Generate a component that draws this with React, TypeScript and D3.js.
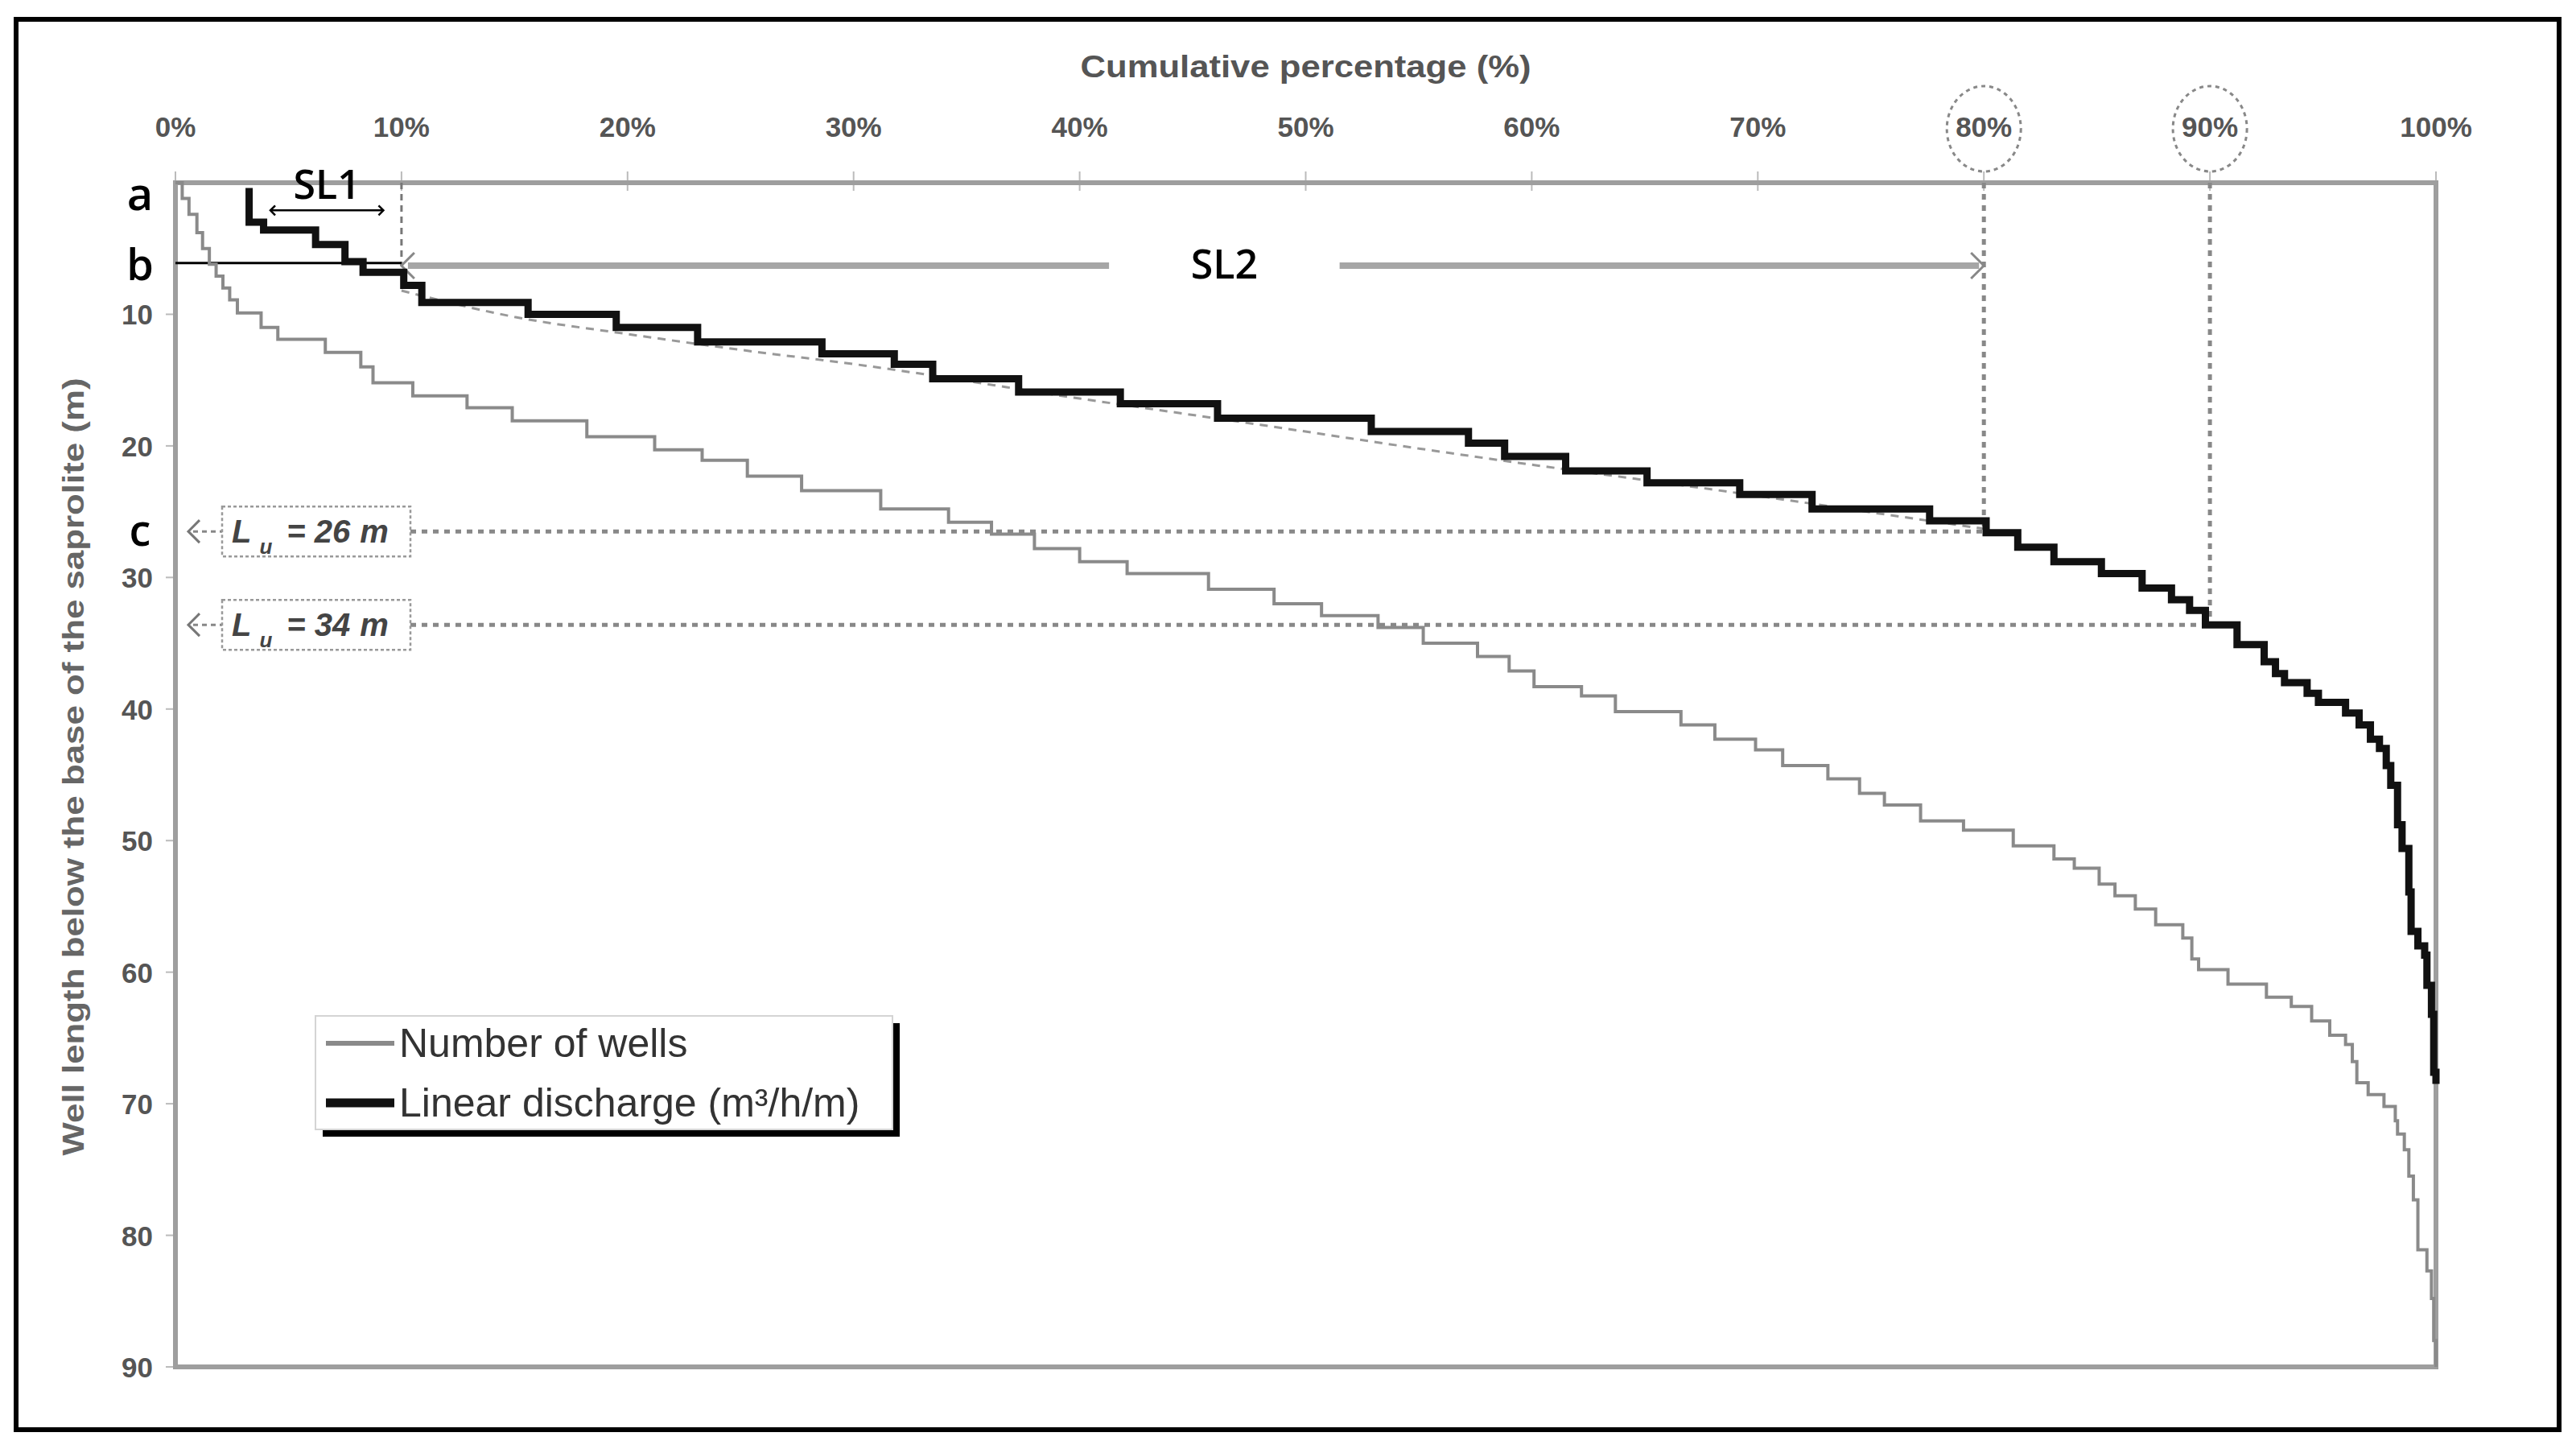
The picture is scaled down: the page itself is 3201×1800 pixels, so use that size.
import { useEffect, useRef } from "react"
import * as d3 from "d3"

const W = 3201
const H = 1800

const xTicks = [0, 10, 20, 30, 40, 50, 60, 70, 80, 90, 100]
const yTicks = [10, 20, 30, 40, 50, 60, 70, 80, 90]

// [cumulative %, well length below saprolite base (m)] - step points
const wellsCurve: [number, number][] = [
  [0, 0], [0.3, 1.2], [0.6, 2.4], [0.95, 3.8], [1.2, 5.0], [1.5, 6.2], [1.8, 7.1], [2.1, 8.0],
  [2.4, 8.9], [2.74, 9.9], [3.79, 11.0], [4.53, 11.9], [6.63, 12.9], [8.2, 14.0], [8.74, 15.2],
  [10.5, 16.2], [12.9, 17.1], [14.9, 18.1], [18.2, 19.3], [21.2, 20.3], [23.3, 21.1], [25.3, 22.3],
  [27.7, 23.4], [31.2, 24.8], [34.2, 25.8], [36.1, 26.7], [38.0, 27.8], [40.0, 28.8], [42.1, 29.7],
  [45.7, 30.9], [48.6, 32.0], [50.7, 32.9], [53.2, 33.8], [55.2, 35.0], [57.6, 36.0], [59.0, 37.1],
  [60.1, 38.3], [62.2, 39.0], [63.7, 40.2], [66.6, 41.2], [68.1, 42.3], [69.9, 43.1], [71.1, 44.3],
  [73.1, 45.3], [74.5, 46.4], [75.6, 47.3], [77.2, 48.5], [79.1, 49.2], [81.3, 50.4], [83.1, 51.4],
  [84.0, 52.1], [85.1, 53.3], [85.8, 54.2], [86.7, 55.2], [87.6, 56.4], [88.8, 57.4], [89.2, 59.0],
  [89.5, 59.8], [90.8, 60.9], [92.5, 61.9], [93.6, 62.6], [94.5, 63.7], [95.3, 64.8], [96.0, 65.5],
  [96.3, 66.8], [96.5, 68.4], [97.0, 69.3], [97.7, 70.2], [98.2, 71.3], [98.3, 72.3], [98.6, 73.5],
  [98.8, 75.5], [99.0, 77.3], [99.2, 81.1], [99.6, 82.7], [99.8, 84.8], [99.9, 88.0], [100, 90],
]

const dischargeCurve: [number, number][] = [
  [3.26, 0.4], [3.26, 3.0], [3.9, 3.6], [6.2, 4.7], [7.5, 6.0], [8.3, 6.8], [10.1, 7.8], [10.9, 9.1],
  [15.6, 10.0], [19.5, 11.0], [23.1, 12.1], [28.6, 13.0], [31.8, 13.8], [33.5, 14.9], [37.3, 15.9],
  [41.8, 16.8], [46.1, 17.9], [52.9, 18.9], [57.2, 19.8], [58.8, 20.8], [61.5, 21.9], [65.1, 22.8],
  [69.2, 23.7], [72.4, 24.8], [77.6, 25.7], [80.1, 26.6], [81.5, 27.7], [83.1, 28.8], [85.2, 29.7],
  [87.0, 30.8], [88.3, 31.7], [89.1, 32.5], [89.8, 33.6], [91.2, 35.1], [92.4, 36.4], [92.9, 37.3],
  [93.3, 38.0], [94.3, 38.8], [94.8, 39.5], [96.0, 40.3], [96.6, 41.2], [97.1, 42.3], [97.5, 43.0],
  [97.8, 44.3], [98.0, 45.8], [98.3, 48.8], [98.5, 50.6], [98.8, 53.9], [98.9, 56.9], [99.2, 58.0],
  [99.5, 58.7], [99.6, 61.0], [99.8, 63.2], [99.9, 67.6], [100, 68.5],
]

// dashed trend drawn under the discharge curve (SL2 section)
const dischargeTrend: [number, number][] = [
  [10.0, 8.2], [15, 10.2], [20, 11.5], [25, 12.7], [30.5, 13.9], [40, 16.4], [48, 18.4],
  [55, 20.2], [60.3, 21.5], [65, 22.6], [70, 23.8], [76.8, 25.5], [80, 26.3],
]

const thresholds = [
  { pct: 80, depth: 26.5, value: "26" },
  { pct: 90, depth: 33.6, value: "34" },
]
const sl1 = { from: 4.2, to: 9.2, depth: 2.1 }
const sl2 = { from: 10, to: 80, depth: 6.3, gapFrom: 41.3, gapTo: 51.5 }
const bDepth = 6.1

const legendItems = [
  { label: "Number of wells", color: "#8a8a8a", width: 4 },
  { label: "Linear discharge (m³/h/m)", color: "#111", width: 9 },
]

const AXIS_FONT = "'Liberation Sans', Arial, sans-serif"
const NOTE_FONT = "'Open Sans', 'Noto Sans', sans-serif"

export default function App() {
  const svgRef = useRef<SVGSVGElement>(null)

  useEffect(() => {
    if (!svgRef.current) return
    const svg = d3.select(svgRef.current)
    svg.selectAll("*").remove()

    const x = d3.scaleLinear().domain([0, 100]).range([218, 3027])
    const y = d3.scaleLinear().domain([0, 90]).range([227, 1698])

    svg.append("rect").attr("width", W).attr("height", H).attr("fill", "#fff")

    // outer border
    svg
      .append("rect")
      .attr("x", 20)
      .attr("y", 24)
      .attr("width", 3160)
      .attr("height", 1752)
      .attr("fill", "none")
      .attr("stroke", "#000")
      .attr("stroke-width", 6)

    // chart title
    svg
      .append("text")
      .attr("x", x(50))
      .attr("y", 96)
      .attr("text-anchor", "middle")
      .attr("font-family", AXIS_FONT)
      .attr("font-weight", "bold")
      .attr("font-size", 38)
      .attr("fill", "#555")
      .attr("textLength", 560)
      .attr("lengthAdjust", "spacingAndGlyphs")
      .text("Cumulative percentage (%)")

    // y title
    svg
      .append("text")
      .attr("transform", `translate(104, ${(y(0) + y(90)) / 2 - 10}) rotate(-90)`)
      .attr("text-anchor", "middle")
      .attr("font-family", AXIS_FONT)
      .attr("font-weight", "bold")
      .attr("font-size", 36)
      .attr("fill", "#666")
      .attr("textLength", 966)
      .attr("lengthAdjust", "spacingAndGlyphs")
      .text("Well length below the base of the saprolite (m)")

    // x ticks and labels
    const xAxis = svg.append("g")
    xTicks.forEach((t) => {
      xAxis
        .append("line")
        .attr("x1", x(t))
        .attr("x2", x(t))
        .attr("y1", y(0) - 14)
        .attr("y2", y(0) + 10)
        .attr("stroke", "#bbb")
        .attr("stroke-width", 2)
      xAxis
        .append("text")
        .attr("x", x(t))
        .attr("y", 170)
        .attr("text-anchor", "middle")
        .attr("font-family", AXIS_FONT)
        .attr("font-weight", "bold")
        .attr("font-size", 35)
        .attr("fill", "#555")
        .text(`${t}%`)
    })

    // y ticks and labels
    const yAxis = svg.append("g")
    yTicks.forEach((t) => {
      yAxis
        .append("line")
        .attr("x1", x(0) - 12)
        .attr("x2", x(0))
        .attr("y1", y(t))
        .attr("y2", y(t))
        .attr("stroke", "#bbb")
        .attr("stroke-width", 2)
      yAxis
        .append("text")
        .attr("x", x(0) - 28)
        .attr("y", y(t) + 13)
        .attr("text-anchor", "end")
        .attr("font-family", AXIS_FONT)
        .attr("font-weight", "bold")
        .attr("font-size", 35)
        .attr("fill", "#555")
        .text(t)
    })

    // plot frame
    svg
      .append("rect")
      .attr("x", x(0))
      .attr("y", y(0))
      .attr("width", x(100) - x(0))
      .attr("height", y(90) - y(0))
      .attr("fill", "none")
      .attr("stroke", "#9e9e9e")
      .attr("stroke-width", 6)

    // dotted circles around 80% and 90%
    thresholds.forEach((d) => {
      svg
        .append("ellipse")
        .attr("cx", x(d.pct))
        .attr("cy", 160)
        .attr("rx", 46)
        .attr("ry", 53)
        .attr("fill", "none")
        .attr("stroke", "#888")
        .attr("stroke-width", 3)
        .attr("stroke-dasharray", "5,5")
    })

    const chevron = (cx: number, cy: number, dir: number, s: number) =>
      `M${cx + dir * s},${cy - s}L${cx},${cy}L${cx + dir * s},${cy + s}`

    // threshold guides: vertical dotted from the top, horizontal to the boxes
    const boxLeft = x(0) + 58
    const boxRight = x(0) + 292
    thresholds.forEach((d) => {
      svg
        .append("line")
        .attr("x1", x(d.pct))
        .attr("x2", x(d.pct))
        .attr("y1", y(0))
        .attr("y2", y(d.depth))
        .attr("stroke", "#888")
        .attr("stroke-width", 5)
        .attr("stroke-dasharray", "7,7")
      svg
        .append("line")
        .attr("x1", boxRight)
        .attr("x2", x(d.pct))
        .attr("y1", y(d.depth))
        .attr("y2", y(d.depth))
        .attr("stroke", "#888")
        .attr("stroke-width", 5)
        .attr("stroke-dasharray", "7,7")
      svg
        .append("line")
        .attr("x1", x(0) + 22)
        .attr("x2", boxLeft)
        .attr("y1", y(d.depth))
        .attr("y2", y(d.depth))
        .attr("stroke", "#888")
        .attr("stroke-width", 3)
        .attr("stroke-dasharray", "6,5")
      svg
        .append("path")
        .attr("d", chevron(x(0) + 16, y(d.depth), 1, 14))
        .attr("fill", "none")
        .attr("stroke", "#777")
        .attr("stroke-width", 3)
      svg
        .append("rect")
        .attr("x", boxLeft)
        .attr("y", y(d.depth) - 31)
        .attr("width", boxRight - boxLeft)
        .attr("height", 62)
        .attr("fill", "#fff")
        .attr("stroke", "#999")
        .attr("stroke-width", 2.5)
        .attr("stroke-dasharray", "4,3")
      const t = svg
        .append("text")
        .attr("x", boxLeft + 12)
        .attr("y", y(d.depth) + 14)
        .attr("font-family", AXIS_FONT)
        .attr("font-style", "italic")
        .attr("font-weight", "bold")
        .attr("font-size", 40)
        .attr("fill", "#444")
      t.append("tspan").text("L")
      t.append("tspan").attr("dy", 14).attr("font-size", 26).attr("dx", 10).text("u")
      t.append("tspan").attr("dy", -14).attr("dx", 18).text(`= ${d.value}`)
      t.append("tspan").attr("dx", 12).text("m")
    })

    // SL1: dashed limit at 10%, b line, double arrow
    svg
      .append("line")
      .attr("x1", x(sl2.from))
      .attr("x2", x(sl2.from))
      .attr("y1", y(0))
      .attr("y2", y(sl2.depth))
      .attr("stroke", "#777")
      .attr("stroke-width", 3)
      .attr("stroke-dasharray", "8,6")
    svg
      .append("line")
      .attr("x1", x(0))
      .attr("x2", x(sl2.from))
      .attr("y1", y(bDepth))
      .attr("y2", y(bDepth))
      .attr("stroke", "#000")
      .attr("stroke-width", 3)
    svg
      .append("line")
      .attr("x1", x(sl1.from))
      .attr("x2", x(sl1.to))
      .attr("y1", y(sl1.depth))
      .attr("y2", y(sl1.depth))
      .attr("stroke", "#000")
      .attr("stroke-width", 2.5)
    ;[
      [sl1.from, 1],
      [sl1.to, -1],
    ].forEach(([p, dir]) => {
      svg
        .append("path")
        .attr("d", chevron(x(p), y(sl1.depth), dir, 6))
        .attr("fill", "none")
        .attr("stroke", "#000")
        .attr("stroke-width", 2.5)
    })
    svg
      .append("text")
      .attr("x", x((sl1.from + sl1.to) / 2))
      .attr("y", y(sl1.depth) - 14)
      .attr("text-anchor", "middle")
      .attr("font-family", NOTE_FONT)
      .attr("font-weight", 600)
      .attr("font-size", 50)
      .attr("fill", "#000")
      .text("SL1")

    // SL2 arrow with a gap for its label
    ;[
      [x(sl2.from) + 8, x(sl2.gapFrom)],
      [x(sl2.gapTo), x(sl2.to) - 6],
    ].forEach(([a, b]) => {
      svg
        .append("line")
        .attr("x1", a)
        .attr("x2", b)
        .attr("y1", y(sl2.depth))
        .attr("y2", y(sl2.depth))
        .attr("stroke", "#a6a6a6")
        .attr("stroke-width", 8)
    })
    ;[
      [sl2.from, 1],
      [sl2.to, -1],
    ].forEach(([p, dir]) => {
      svg
        .append("path")
        .attr("d", chevron(x(p), y(sl2.depth), dir, 16))
        .attr("fill", "none")
        .attr("stroke", "#888")
        .attr("stroke-width", 3)
    })
    svg
      .append("text")
      .attr("x", x((sl2.gapFrom + sl2.gapTo) / 2))
      .attr("y", y(sl2.depth) + 16)
      .attr("text-anchor", "middle")
      .attr("font-family", NOTE_FONT)
      .attr("font-weight", 600)
      .attr("font-size", 50)
      .attr("fill", "#000")
      .text("SL2")

    // a, b, c markers
    const marks = [
      { t: "a", depth: 2.1, size: 56 },
      { t: "b", depth: 7.4, size: 54 },
      { t: "c", depth: 27.6, size: 54 },
    ]
    marks.forEach((m) => {
      svg
        .append("text")
        .attr("x", x(0) - 44)
        .attr("y", y(m.depth))
        .attr("text-anchor", "middle")
        .attr("font-family", NOTE_FONT)
        .attr("font-weight", 600)
        .attr("font-size", m.size)
        .attr("fill", "#000")
        .text(m.t)
    })

    // curves
    const stepLine = d3
      .line<[number, number]>()
      .x((d) => x(d[0]))
      .y((d) => y(d[1]))
      .curve(d3.curveStepAfter)

    svg
      .append("path")
      .datum(wellsCurve)
      .attr("d", stepLine)
      .attr("fill", "none")
      .attr("stroke", legendItems[0].color)
      .attr("stroke-width", legendItems[0].width)

    svg
      .append("path")
      .datum(dischargeTrend)
      .attr(
        "d",
        d3
          .line<[number, number]>()
          .x((d) => x(d[0]))
          .y((d) => y(d[1]))
          .curve(d3.curveMonotoneX)
      )
      .attr("fill", "none")
      .attr("stroke", "#999")
      .attr("stroke-width", 3)
      .attr("stroke-dasharray", "10,8")

    svg
      .append("path")
      .datum(dischargeCurve)
      .attr("d", stepLine)
      .attr("fill", "none")
      .attr("stroke", legendItems[1].color)
      .attr("stroke-width", legendItems[1].width)
      .attr("stroke-linejoin", "miter")

    // legend with drop shadow
    const lg = svg.append("g").attr("transform", "translate(392, 1262)")
    lg.append("rect").attr("x", 9).attr("y", 9).attr("width", 717).attr("height", 141).attr("fill", "#000")
    lg.append("rect")
      .attr("width", 717)
      .attr("height", 141)
      .attr("fill", "#fff")
      .attr("stroke", "#d4d4d4")
      .attr("stroke-width", 2)
    legendItems.forEach((item, i) => {
      const cy = 34 + i * 74
      lg.append("line")
        .attr("x1", 13)
        .attr("x2", 98)
        .attr("y1", cy)
        .attr("y2", cy)
        .attr("stroke", item.color)
        .attr("stroke-width", item.width + 2)
      lg.append("text")
        .attr("x", 104)
        .attr("y", cy + 17)
        .attr("font-family", AXIS_FONT)
        .attr("font-size", 50)
        .attr("fill", "#333")
        .text(item.label)
    })
  }, [])

  return (
    <svg
      ref={svgRef}
      width={W}
      height={H}
      style={{ position: "absolute", left: 0, top: 0, display: "block" }}
    />
  )
}
